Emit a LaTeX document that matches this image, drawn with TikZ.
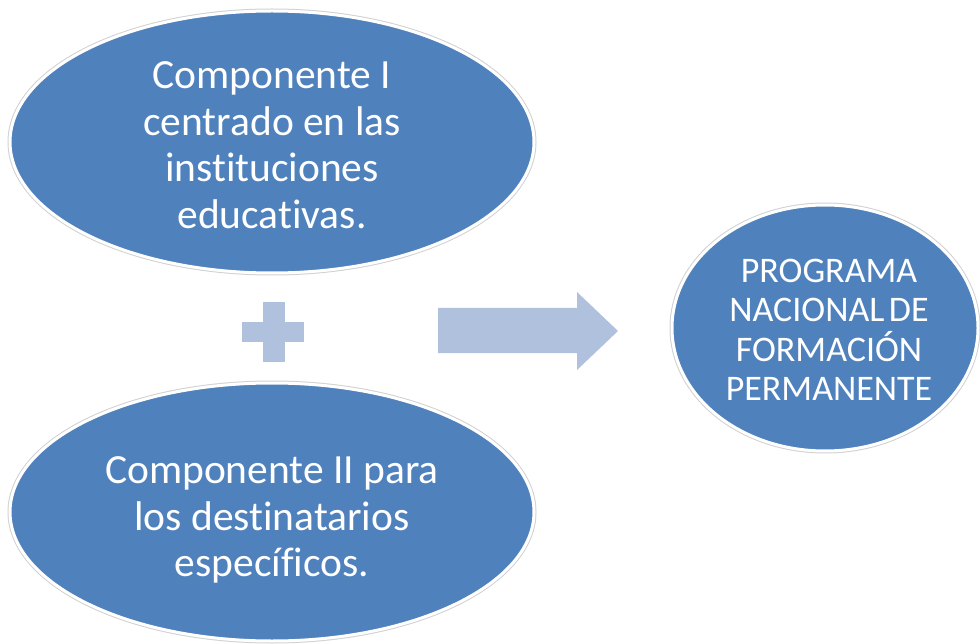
\documentclass[tikz,border=0pt]{standalone}
\usepackage{fontspec}
\setmainfont{Carlito}[Ligatures=NoCommon]
\usetikzlibrary{shapes.geometric}
\definecolor{accblue}{HTML}{4F81BD}
\definecolor{lightblue}{HTML}{B0C1DD}
\begin{document}
\begin{tikzpicture}[x=1pt,y=-1pt,
  ell/.style={ellipse, inner sep=0pt, fill=accblue, draw=white, line width=3pt,
    preaction={draw=black!18, line width=5pt}},
  bigtxt/.style={text=white, align=center, inner sep=0pt, font=\fontsize{41.5}{46.5}\selectfont},
  smalltxt/.style={text=white, align=center, inner sep=0pt, font=\fontsize{36}{39.5}\selectfont}]
\useasboundingbox (0,0) rectangle (980,644);
% ellipses
\node[ell, minimum width=524pt, minimum height=262pt] (c1) at (272,142) {};
\node[ell, minimum width=524pt, minimum height=258pt] (c2) at (272,512) {};
\node[ell, minimum width=306pt, minimum height=246pt] (prog) at (825,328) {};
% texts
\node[bigtxt] (t1) at ([yshift=-3pt]c1.center) {Componente I\\centrado en las\\instituciones\\educativas.};
\node[bigtxt] (t2) at ([yshift=-8pt]c2.center) {Componente II para\\los destinatarios\\específicos.};
\node[smalltxt] (t3) at ([xshift=4pt,yshift=-2pt]prog.center) {PROGRAMA\\NACIONAL\hspace{-0.1em} DE\\FORMACIÓN\\PERMANENTE};
% plus
\fill[lightblue] (263,302) rectangle (285,362);
\fill[lightblue] (242,322) rectangle (304,342);
% block arrow
\fill[lightblue] (438,308) -- (577,308) -- (577,292) -- (618,331) -- (577,370) -- (577,353) -- (438,353) -- cycle;
\end{tikzpicture}
\end{document}
